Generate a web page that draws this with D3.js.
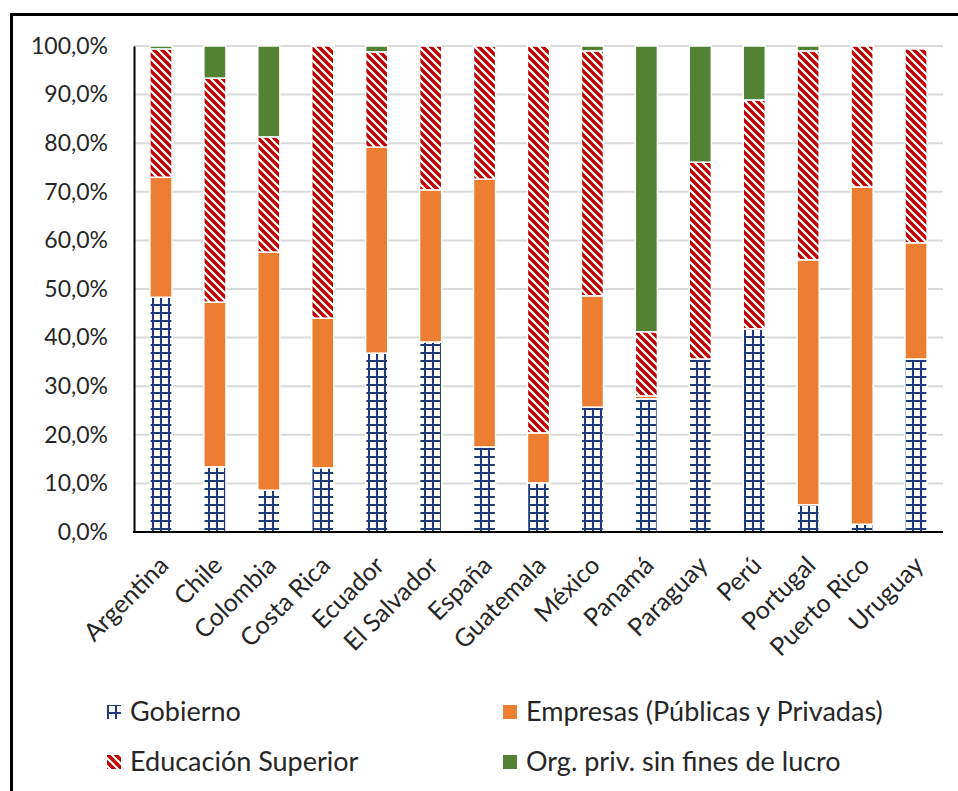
<!DOCTYPE html>
<html>
<head>
<meta charset="utf-8">
<script src="https://cdn.jsdelivr.net/npm/d3@7"></script>
<style>
  body { margin: 0; background: #fff; }
  text { font-family: Lato, "Liberation Sans", sans-serif; fill: #262626; }
</style>
</head>
<body>
<svg id="chart" width="958" height="791"></svg>
<script>
// countries on the x axis
const countries = ["Argentina", "Chile", "Colombia", "Costa Rica", "Ecuador", "El Salvador", "España",
  "Guatemala", "México", "Panamá", "Paraguay", "Perú", "Portugal", "Puerto Rico", "Uruguay"];

// share of R&D by sector, in %
const gobierno   = [48.3, 13.4, 8.6, 13.2, 36.8, 39.1, 17.5, 10.1, 25.7, 27.4, 35.6, 41.8, 5.6, 1.6, 35.6];
const empresas   = [24.7, 33.9, 49.0, 30.8, 42.4, 31.3, 55.1, 10.3, 22.9, 0.6, 0.0, 0.0, 50.4, 69.4, 23.9];
const educacion  = [26.4, 46.1, 23.7, 56.0, 19.6, 29.6, 27.4, 79.6, 50.4, 13.2, 40.5, 47.1, 43.0, 29.0, 39.9];
const orgPriv    = [0.6, 6.6, 18.7, 0.0, 1.2, 0.0, 0.0, 0.0, 1.0, 58.8, 23.9, 11.1, 1.0, 0.0, 0.0];

const yTicks = [0, 10, 20, 30, 40, 50, 60, 70, 80, 90, 100];

const seriesNames = ["Gobierno", "Empresas (Públicas y Privadas)", "Educación Superior", "Org. priv. sin fines de lucro"];
const seriesKeys = ["gob", "emp", "edu", "org"];

const svg = d3.select("#chart");
const plot = { left: 134, right: 943, top: 46, bottom: 532 };

// outer frame
svg.append("rect")
  .attr("x", 11.5).attr("y", 14.5)
  .attr("width", 980).attr("height", 800)
  .attr("fill", "none").attr("stroke", "#000").attr("stroke-width", 3);

// fill patterns
const defs = svg.append("defs");
const grid = defs.append("pattern").attr("id", "pGob")
  .attr("patternUnits", "userSpaceOnUse").attr("width", 8).attr("height", 8);
grid.append("rect").attr("width", 8).attr("height", 8).attr("fill", "#fff");
grid.append("rect").attr("x", 0).attr("y", 0).attr("width", 2).attr("height", 8).attr("fill", "#1F3A78");
grid.append("rect").attr("x", 0).attr("y", 0).attr("width", 8).attr("height", 2).attr("fill", "#1F3A78");

const diag = defs.append("pattern").attr("id", "pEdu")
  .attr("patternUnits", "userSpaceOnUse").attr("width", 8).attr("height", 8);
diag.append("rect").attr("width", 8).attr("height", 8).attr("fill", "#fff");
diag.append("path")
  .attr("d", "M-2,-2 L10,10 M-2,6 L2,10 M6,-2 L10,2")
  .attr("stroke", "#C00000").attr("stroke-width", 3.4);

const fills = { gob: "url(#pGob)", emp: "#ED7D31", edu: "url(#pEdu)", org: "#548235" };

const data = countries.map((c, i) => ({
  country: c, gob: gobierno[i], emp: empresas[i], edu: educacion[i], org: orgPriv[i]
}));

const x = d3.scaleBand().domain(countries)
  .range([plot.left, plot.right]).paddingInner(0.59).paddingOuter(0.295);
const y = d3.scaleLinear().domain([0, 100]).range([plot.bottom, plot.top]);

// gridlines
svg.append("g").selectAll("line").data(yTicks.filter(d => d > 0)).join("line")
  .attr("x1", plot.left).attr("x2", plot.right)
  .attr("y1", d => y(d)).attr("y2", d => y(d))
  .attr("stroke", "#D9D9D9").attr("stroke-width", 2);

// bars
const stacked = d3.stack().keys(seriesKeys)(data);
svg.append("g").selectAll("g").data(stacked).join("g")
  .attr("fill", d => fills[d.key])
  .selectAll("rect").data(d => d.filter(p => p[1] - p[0] > 0)).join("rect")
  .attr("x", d => x(d.data.country))
  .attr("width", x.bandwidth())
  .attr("y", d => y(d[1]))
  .attr("height", d => y(d[0]) - y(d[1]))
  .attr("stroke", "#fff").attr("stroke-width", 1.5);

// y axis
const yAxis = svg.append("g").attr("transform", `translate(${plot.left},0)`)
  .call(d3.axisLeft(y).tickValues(yTicks).tickSize(0).tickPadding(26)
    .tickFormat(d => d3.format(".1f")(d).replace(".", ",") + "%"));
yAxis.select(".domain").attr("stroke", "#000").attr("stroke-width", 2);
yAxis.selectAll("text").style("font-size", "23px").attr("fill", "#262626")
  .style("font-family", "Lato, sans-serif");

// x axis line
svg.append("line")
  .attr("x1", plot.left - 1).attr("x2", plot.right)
  .attr("y1", plot.bottom).attr("y2", plot.bottom)
  .attr("stroke", "#000").attr("stroke-width", 2);

// x labels
svg.append("g").selectAll("text").data(countries).join("text")
  .attr("transform", d => `translate(${x(d) + x.bandwidth() / 2 + 9},567) rotate(-45)`)
  .attr("text-anchor", "end")
  .style("font-size", "25px")
  .text(d => d);

// legend
const legendPos = [[107, 712], [503, 712], [107, 762], [503, 762]];
const legend = svg.append("g").selectAll("g").data(seriesKeys).join("g")
  .attr("transform", (d, i) => `translate(${legendPos[i][0]},${legendPos[i][1]})`);
legend.append("rect")
  .attr("x", 0).attr("y", -7).attr("width", 14).attr("height", 14)
  .attr("fill", d => fills[d]);
legend.append("text")
  .attr("x", 23).attr("y", 0).attr("dy", "0.35em")
  .style("font-size", "27px")
  .text((d, i) => seriesNames[i]);
</script>
</body>
</html>
